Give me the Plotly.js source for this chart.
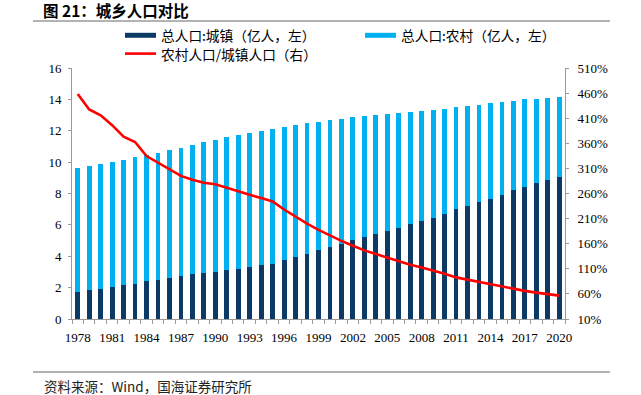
<!DOCTYPE html>
<html>
<head>
<meta charset="utf-8">
<script src="https://cdn.plot.ly/plotly-3.0.1.min.js"></script>
<style>html,body{margin:0;padding:0;background:#fff;}#chart{width:641px;height:395px;}</style>
</head>
<body>
<div id="chart"></div>
<script>
// ---- data (亿人 / %) ----
var years = [1978,1979,1980,1981,1982,1983,1984,1985,1986,1987,1988,1989,1990,1991,1992,1993,1994,1995,1996,1997,1998,1999,2000,2001,2002,2003,2004,2005,2006,2007,2008,2009,2010,2011,2012,2013,2014,2015,2016,2017,2018,2019,2020];
var urban = [1.7245,1.8495,1.9140,2.0171,2.1480,2.2274,2.4017,2.5094,2.6366,2.7674,2.8661,2.9540,3.0195,3.1203,3.2175,3.3173,3.4169,3.5174,3.7304,3.9449,4.1608,4.3748,4.5906,4.8064,5.0212,5.2376,5.4283,5.6212,5.8288,6.0633,6.2403,6.4512,6.6978,6.9927,7.2175,7.4502,7.6738,7.9302,8.1924,8.4343,8.6433,8.8426,9.0220];
var rural = [7.9014,7.9047,7.9565,7.9901,8.0174,8.0734,8.0340,8.0757,8.1141,8.1626,8.2365,8.3164,8.4138,8.4620,8.4996,8.5344,8.5681,8.5947,8.5085,8.4177,8.3153,8.2038,8.0837,7.9563,7.8241,7.6851,7.5705,7.4544,7.3160,7.1496,7.0399,6.8938,6.7113,6.4989,6.3747,6.2224,6.0908,5.9024,5.7308,5.5668,5.4108,5.2582,5.0992];
var ratio = [458.2,427.4,415.7,396.1,373.2,362.5,334.5,321.8,307.7,295.0,287.4,281.5,278.6,271.2,264.2,257.3,250.8,244.3,228.1,213.4,199.8,187.5,176.1,165.5,155.8,146.7,139.5,132.6,125.5,117.9,112.8,106.9,100.2,92.9,88.3,83.5,79.4,74.4,70.0,66.0,62.6,59.5,56.5];
var seriesNames = ["总人口:城镇（亿人，左）","总人口:农村（亿人，左）","农村人口/城镇人口（右）"];
var titleText = "图 21：城乡人口对比";
var sourceText = "资料来源：Wind，国海证券研究所";

// ---- layout geometry ----
var W = 641, H = 395;
var L = 72, R = 565, T = 68, B = 319;
function px(x){ return (x - L) / (R - L); }
function py(y){ return (B - y) / (B - T); }

var cDark = "#0B3A66", cLight = "#00B0F0", cRed = "#FF0000", cAxis = "#9A9A9A";
var cjk = "Noto Sans CJK SC";
var serif = "Liberation Serif";

var traces = [
  {type:"bar", x:years, y:urban, name:seriesNames[0], marker:{color:cDark}, yaxis:"y"},
  {type:"bar", x:years, y:rural, name:seriesNames[1], marker:{color:cLight}, yaxis:"y"},
  {type:"scatter", mode:"lines", x:years, y:ratio, name:seriesNames[2], line:{color:cRed, width:2.6}, yaxis:"y2"}
];

var layout = {
  width:W, height:H,
  margin:{l:L, r:W-R, t:T, b:H-B, pad:0},
  paper_bgcolor:"#fff", plot_bgcolor:"#fff",
  barmode:"stack", bargap:0.58,
  showlegend:false, hovermode:false,
  title:{text:"<b>"+titleText+"</b>", xref:"container", yref:"container", x:43/W, xanchor:"left", y:1-11.5/H, yanchor:"middle", font:{family:cjk, size:15.5, color:"#000"}},
  xaxis:{range:[1977.5,2020.5], tick0:1978, dtick:3, ticks:"", showgrid:false, zeroline:false,
    showline:true, linecolor:cAxis, linewidth:1,
    tickfont:{family:serif, size:13, color:"#000"}, ticklabelstandoff:6,
    minor:{tick0:1977.5, dtick:1, ticks:"outside", ticklen:4, tickcolor:cAxis, tickwidth:1, showgrid:false}},
  yaxis:{range:[0,16], dtick:2, tick0:0, showgrid:false, zeroline:false, showline:true, linecolor:cAxis, linewidth:1,
    ticks:"outside", ticklen:3, tickcolor:cAxis, tickfont:{family:serif, size:13, color:"#000"}, ticklabelstandoff:4},
  yaxis2:{range:[10,510], dtick:50, tick0:10, overlaying:"y", side:"right", showgrid:false, zeroline:false,
    showline:true, linecolor:cAxis, linewidth:1, ticks:"outside", ticklen:3, tickcolor:cAxis, ticksuffix:"%",
    tickfont:{family:serif, size:13, color:"#000"}, ticklabelstandoff:6},
  shapes:[
    {type:"line", xref:"paper", yref:"paper", x0:px(33), x1:px(610), y0:py(21), y1:py(21), line:{color:"#666", width:1}},
    {type:"line", xref:"paper", yref:"paper", x0:px(33), x1:px(610), y0:py(372), y1:py(372), line:{color:"#666", width:1}},
    {type:"rect", xref:"paper", yref:"paper", x0:px(125), x1:px(156), y0:py(37.8), y1:py(32.8), fillcolor:cDark, line:{width:0}},
    {type:"rect", xref:"paper", yref:"paper", x0:px(365), x1:px(396), y0:py(37.8), y1:py(32.8), fillcolor:cLight, line:{width:0}},
    {type:"line", xref:"paper", yref:"paper", x0:px(125), x1:px(156), y0:py(53.6), y1:py(53.6), line:{color:cRed, width:2.6}}
  ],
  annotations:[
    {xref:"paper", yref:"paper", x:px(160), y:py(35.3), xanchor:"left", yanchor:"middle", showarrow:false, borderpad:0, text:seriesNames[0], font:{family:cjk, size:13.7, color:"#000"}},
    {xref:"paper", yref:"paper", x:px(400), y:py(35.3), xanchor:"left", yanchor:"middle", showarrow:false, borderpad:0, text:seriesNames[1], font:{family:cjk, size:13.7, color:"#000"}},
    {xref:"paper", yref:"paper", x:px(160), y:py(53.6), xanchor:"left", yanchor:"middle", showarrow:false, borderpad:0, text:seriesNames[2], font:{family:cjk, size:13.7, color:"#000"}},
    {xref:"paper", yref:"paper", x:px(43), y:py(386), xanchor:"left", yanchor:"middle", showarrow:false, borderpad:0, text:sourceText, font:{family:cjk, size:13.5, color:"#222"}}
  ]
};

Plotly.newPlot("chart", traces, layout, {staticPlot:true, displayModeBar:false});
</script>
</body>
</html>
